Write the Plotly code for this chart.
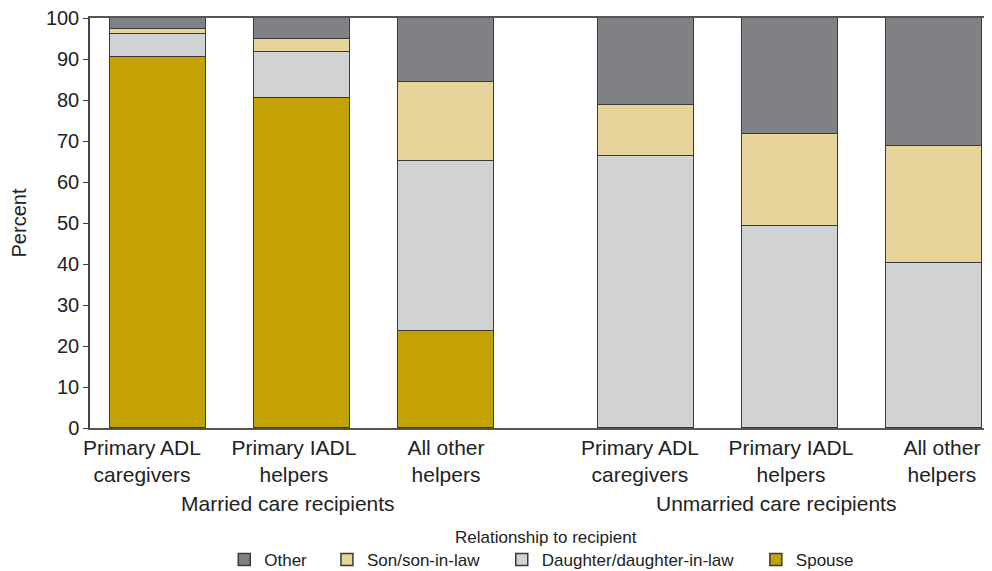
import plotly.graph_objects as go

categories = ["Primary ADL<br>caregivers", "Primary IADL<br>helpers", "All other<br>helpers",
              "Primary ADL<br>caregivers", "Primary IADL<br>helpers", "All other<br>helpers"]
groups = ["Married care recipients", "Unmarried care recipients"]

spouse = [90.4, 80.6, 23.7, 0, 0, 0]
daughter = [5.7, 11.2, 41.5, 66.3, 49.3, 40.2]
son = [1.1, 3.2, 19.1, 12.4, 22.3, 28.6]
other = [2.8, 5.0, 15.7, 21.3, 28.4, 31.2]

# (name, values, colour, legend id, legend x in paper coords)
series = [
    ("Spouse", spouse, "#C4A204", "legend5", 0.739),
    ("Daughter/daughter-in-law", daughter, "#D1D2D4", "legend4", 0.457),
    ("Son/son-in-law", son, "#E7D49A", "legend3", 0.263),
    ("Other", other, "#808184", "legend2", 0.149),
]

group_gap = 1.39
xpos = [0, 1, 2, 2 + group_gap, 3 + group_gap, 4 + group_gap]
label_pos = [-0.111, 0.944, 2.0, 3.347, 4.396, 5.444]

FONT = "Liberation Sans, Arial, sans-serif"
LEG_Y = -0.322

fig = go.Figure()
legends = {}
for name, vals, col, leg, lx in series:
    fig.add_trace(go.Bar(
        x=xpos, y=vals, name=name, width=0.667, legend=leg, showlegend=True,
        marker=dict(color=col, line=dict(color="#3a3a3a", width=1.5)),
    ))
    legends[leg] = dict(x=lx, xanchor="left", y=LEG_Y, yanchor="middle",
                        font=dict(size=17), bgcolor="rgba(0,0,0,0)")

fig.update_layout(
    barmode="stack",
    width=984, height=563,
    margin=dict(l=82, r=1, t=10, b=143, autoexpand=False),
    paper_bgcolor="white", plot_bgcolor="white",
    font=dict(family=FONT, size=20, color="#222"),
    xaxis=dict(range=[-0.472, 5.785], tickvals=label_pos, ticktext=categories,
               tickangle=0, automargin=False,
               showline=True, mirror=True, linecolor="#555", linewidth=1.5,
               ticks="", showgrid=False, zeroline=False,
               tickfont=dict(size=21)),
    yaxis=dict(range=[0, 100], tickvals=list(range(0, 101, 10)),
               automargin=False, ticklabeloverflow="allow",
               showline=True, linecolor="#444", linewidth=1.5,
               ticks="outside", ticklen=5, tickcolor="#444",
               showgrid=False, zeroline=False,
               title=dict(text="Percent", standoff=16, font=dict(size=20)),
               tickfont=dict(size=20)),
    bargap=0,
    **legends,
)

group_centers = [(xpos[0] + xpos[2]) / 2, (xpos[3] + xpos[5]) / 2]
for g, cx in zip(groups, group_centers):
    fig.add_annotation(text=g, x=cx - 0.1, xref="x", y=-0.183, yref="paper",
                       yanchor="middle", showarrow=False, font=dict(size=21))

fig.add_annotation(text="Relationship to recipient", x=0.506, xref="paper",
                   y=-0.266, yref="paper", yanchor="middle", showarrow=False,
                   font=dict(size=17))

fig.write_html("out.html")
